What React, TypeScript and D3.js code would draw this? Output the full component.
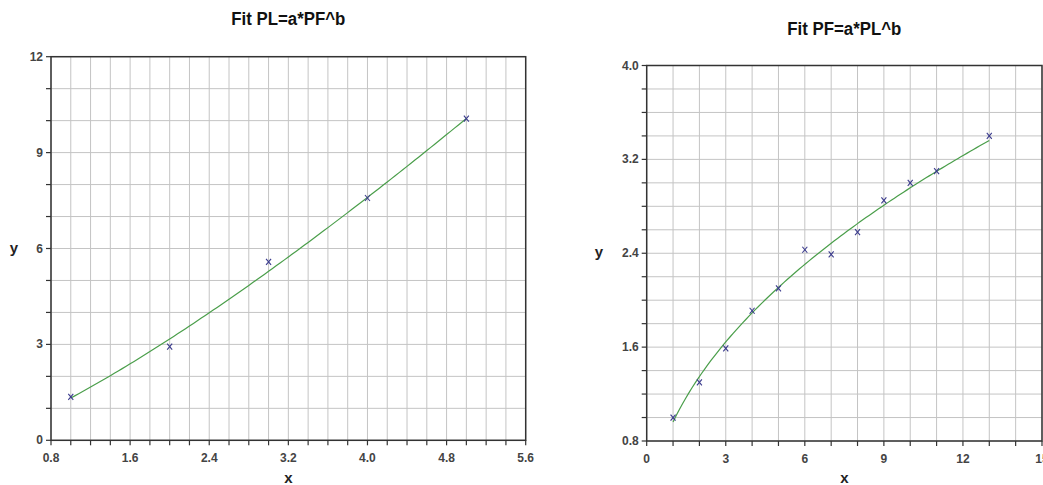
import React, { useEffect, useRef } from 'react';
import * as d3 from 'd3';

// left chart: PL vs PF
const leftX = [1, 2, 3, 4, 5];
const leftY = [1.36, 2.93, 5.58, 7.58, 10.06];
const leftXTicks = [0.8, 1.6, 2.4, 3.2, 4.0, 4.8, 5.6];
const leftYTicks = [0, 3, 6, 9, 12];

// right chart: PF vs PL
const rightX = [1, 2, 3, 4, 5, 6, 7, 8, 9, 10, 11, 13];
const rightY = [1.0, 1.3, 1.59, 1.91, 2.1, 2.43, 2.39, 2.58, 2.85, 3.0, 3.1, 3.4];
const rightXTicks = [0, 3, 6, 9, 12, 15];
const rightYTicks = [0.8, 1.6, 2.4, 3.2, 4.0];

const FONT = '"Liberation Sans Narrow", "Liberation Sans", Arial, sans-serif';

// power law fit y = a * x^b by least squares in log-log space
function fitPower(xs: number[], ys: number[]) {
  const lx = xs.map(Math.log);
  const ly = ys.map(Math.log);
  const mx = d3.mean(lx)!;
  const my = d3.mean(ly)!;
  const sxy = d3.sum(lx, (v, i) => (v - mx) * (ly[i] - my));
  const sxx = d3.sum(lx, v => (v - mx) * (v - mx));
  const b = sxy / sxx;
  const a = Math.exp(my - b * mx);
  return (x: number) => a * Math.pow(x, b);
}

type Cfg = {
  title: string;
  xs: number[];
  ys: number[];
  xDomain: [number, number];
  yDomain: [number, number];
  xRange: [number, number];
  yRange: [number, number];
  xTicks: number[];
  yTicks: number[];
  xMinor: number;
  yMinor: number;
  xFmt: (v: number) => string;
  yFmt: (v: number) => string;
  titleY: number;
  yLabelX: number;
};

function drawChart(svg: d3.Selection<SVGSVGElement, unknown, null, undefined>, c: Cfg) {
  const x = d3.scaleLinear().domain(c.xDomain).range(c.xRange);
  const y = d3.scaleLinear().domain(c.yDomain).range(c.yRange);
  const g = svg.append('g');
  const [x0, x1] = c.xRange;
  const [yb, yt] = c.yRange;

  const xMinorTicks = d3.range(c.xDomain[0], c.xDomain[1] + c.xMinor / 2, c.xMinor);
  const yMinorTicks = d3.range(c.yDomain[0], c.yDomain[1] + c.yMinor / 2, c.yMinor);

  // grid
  g.append('g')
    .selectAll('line')
    .data(xMinorTicks)
    .join('line')
    .attr('x1', d => x(d)).attr('x2', d => x(d))
    .attr('y1', yt).attr('y2', yb)
    .attr('stroke', '#c4c4c4').attr('stroke-width', 1);
  g.append('g')
    .selectAll('line')
    .data(yMinorTicks)
    .join('line')
    .attr('y1', d => y(d)).attr('y2', d => y(d))
    .attr('x1', x0).attr('x2', x1)
    .attr('stroke', '#c4c4c4').attr('stroke-width', 1);

  // frame
  g.append('rect')
    .attr('x', x0).attr('y', yt)
    .attr('width', x1 - x0).attr('height', yb - yt)
    .attr('fill', 'none').attr('stroke', '#333').attr('stroke-width', 1.5);

  // ticks
  g.append('g')
    .selectAll('line')
    .data(xMinorTicks)
    .join('line')
    .attr('x1', d => x(d)).attr('x2', d => x(d))
    .attr('y1', yb).attr('y2', yb + 5)
    .attr('stroke', '#333').attr('stroke-width', 1.2);
  g.append('g')
    .selectAll('line')
    .data(yMinorTicks)
    .join('line')
    .attr('y1', d => y(d)).attr('y2', d => y(d))
    .attr('x1', x0 - 5).attr('x2', x0)
    .attr('stroke', '#333').attr('stroke-width', 1.2);

  // tick labels
  g.append('g')
    .selectAll('text')
    .data(c.xTicks)
    .join('text')
    .attr('x', d => x(d)).attr('y', yb + 22)
    .attr('text-anchor', 'middle')
    .attr('font-family', FONT).attr('font-size', 12).attr('font-weight', 'bold')
    .attr('fill', '#444')
    .text(c.xFmt);
  g.append('g')
    .selectAll('text')
    .data(c.yTicks)
    .join('text')
    .attr('x', x0 - 8).attr('y', d => y(d) + 4)
    .attr('text-anchor', 'end')
    .attr('font-family', FONT).attr('font-size', 12).attr('font-weight', 'bold')
    .attr('fill', '#444')
    .text(c.yFmt);

  // axis labels and title
  const cx = (x0 + x1) / 2;
  g.append('text')
    .attr('x', cx).attr('y', 483)
    .attr('text-anchor', 'middle')
    .attr('font-family', FONT).attr('font-size', 15).attr('font-weight', 'bold')
    .attr('fill', '#222').text('x');
  g.append('text')
    .attr('x', c.yLabelX).attr('y', (yt + yb) / 2 + 4)
    .attr('text-anchor', 'middle')
    .attr('font-family', FONT).attr('font-size', 15).attr('font-weight', 'bold')
    .attr('fill', '#222').text('y');
  g.append('text')
    .attr('x', cx).attr('y', c.titleY)
    .attr('text-anchor', 'middle')
    .attr('font-family', FONT).attr('font-size', 18).attr('font-weight', 'bold')
    .attr('textLength', 114).attr('lengthAdjust', 'spacingAndGlyphs')
    .attr('fill', '#111').text(c.title);

  // fit curve
  const f = fitPower(c.xs, c.ys);
  const xmin = d3.min(c.xs)!;
  const xmax = d3.max(c.xs)!;
  const samples = d3.range(0, 101).map(i => xmin + ((xmax - xmin) * i) / 100);
  const line = d3.line<number>().x(d => x(d)).y(d => y(f(d)));
  g.append('path')
    .datum(samples)
    .attr('fill', 'none')
    .attr('stroke', '#4a9e4a')
    .attr('stroke-width', 1.2)
    .attr('d', line);

  // data markers
  const pts = c.xs.map((v, i) => [v, c.ys[i]]);
  const m = g.append('g').attr('stroke', '#3a3a8c').attr('stroke-width', 1.1);
  pts.forEach(([px, py]) => {
    const sx = x(px);
    const sy = y(py);
    m.append('line').attr('x1', sx - 2.5).attr('x2', sx + 2.5).attr('y1', sy - 3).attr('y2', sy + 3);
    m.append('line').attr('x1', sx - 2.5).attr('x2', sx + 2.5).attr('y1', sy + 3).attr('y2', sy - 3);
  });
}

const App = () => {
  const ref = useRef<SVGSVGElement>(null);

  useEffect(() => {
    const svg = d3.select(ref.current!);
    svg.selectAll('*').remove();
    svg.append('rect').attr('width', 1043).attr('height', 485).attr('fill', '#fff');

    drawChart(svg, {
      title: 'Fit PL=a*PF^b',
      xs: leftX,
      ys: leftY,
      xDomain: [0.8, 5.6],
      yDomain: [0, 12],
      xRange: [51, 525.7],
      yRange: [440.3, 56.7],
      xTicks: leftXTicks,
      yTicks: leftYTicks,
      xMinor: 0.2,
      yMinor: 1,
      xFmt: d3.format('.1f'),
      yFmt: d3.format('d'),
      titleY: 25,
      yLabelX: 14,
    });

    drawChart(svg, {
      title: 'Fit PF=a*PL^b',
      xs: rightX,
      ys: rightY,
      xDomain: [0, 15],
      yDomain: [0.8, 4.0],
      xRange: [646.7, 1042],
      yRange: [441, 65.5],
      xTicks: rightXTicks,
      yTicks: rightYTicks,
      xMinor: 1,
      yMinor: 0.2,
      xFmt: d3.format('d'),
      yFmt: d3.format('.1f'),
      titleY: 35,
      yLabelX: 599,
    });
  }, []);

  return (
    <svg
      ref={ref}
      width={1043}
      height={485}
      style={{ position: 'fixed', left: 0, top: 0, display: 'block' }}
    />
  );
};

export default App;
